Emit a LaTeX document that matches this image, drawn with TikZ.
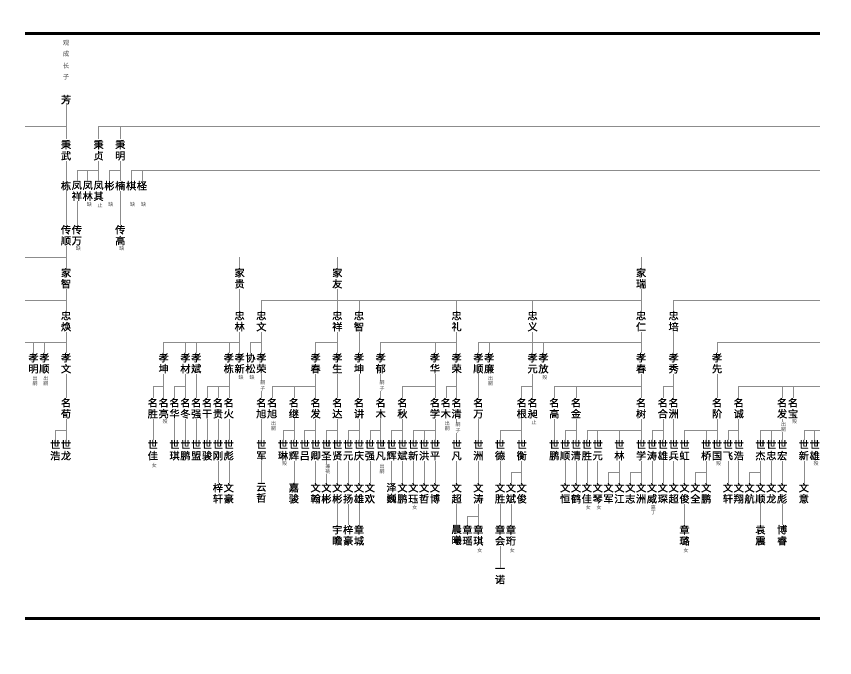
\documentclass[tikz,border=0pt]{standalone}
\usepackage{fontspec}
\newfontfamily\cjk[FakeBold=0.35]{Noto Sans CJK SC}
\newfontfamily\cjkn{Noto Sans CJK SC}
\usetikzlibrary{calc}
\definecolor{lncol}{RGB}{140,140,140}
\definecolor{ntcol}{RGB}{70,70,70}
\tikzset{
 nm/.style={inner xsep=0pt, inner ysep=0.3pt, anchor=north, align=center, font=\cjk\fontsize{10.2}{11}\selectfont},
 note/.style={inner sep=0.2pt, align=center, text=ntcol, font=\cjkn\fontsize{5}{5.8}\selectfont, fill=white},
 conn/.style={draw=lncol, line width=0.6pt},
 rulebar/.style={line width=3pt, black}
}
\newcommand\GN[4]{\node[nm] (#1) at ({33.5+10.85*#2},#3-0.5) {#4};}
\newcommand\GT[4]{\node[note] (n#1) at ({33.5+10.85*#2+1.5},#3) {#4};}
\newcommand\GV[2]{\draw[conn] (#1.south) -- (#2.north);}
\newcommand\GU[2]{\draw[conn] (#1.north) -- (#1.north |- #2);}
\newcommand\GH[3]{\draw[conn] (#1 |- #3) -- (#2 |- #3);}
\begin{document}
\begin{tikzpicture}[x=1pt,y=-1pt]
\useasboundingbox (0,0) rectangle (851,674);
\coordinate (W) at (25,0); \coordinate (E) at (820,0);
\coordinate (L1) at (0,126.5); \coordinate (L2) at (0,170);
\coordinate (L4) at (0,257); \coordinate (L5) at (0,300);
\coordinate (L6) at (0,342); \coordinate (L7) at (0,386);
\coordinate (L8) at (0,430); \coordinate (L9) at (0,472);
\coordinate (L10) at (0,516);
\coordinate (R1a) at (25,34); \coordinate (R1b) at (820,34);
\coordinate (R2a) at (25,618); \coordinate (R2b) at (820,618);
\draw[rulebar] (R1a) -- (R1b);
\draw[rulebar] (R2a) -- (R2b);
\node[font=\cjkn\fontsize{6.5}{11.5}\selectfont, text=ntcol, align=center, anchor=north, inner sep=0pt] (hdr) at ({33.5+10.85*3},40) {观\\成\\长\\子};
% names
\GN{fang}{3}{95}{芳}
\GN{bwu}{3}{140}{秉\\武}
\GN{bzhen}{6}{140}{秉\\贞}
\GN{bming}{8}{140}{秉\\明}
\GN{dong}{3}{181}{栋}
\GN{fxiang}{4}{181}{凤\\祥}
\GN{flin}{5}{181}{凤\\林}
\GN{fqi}{6}{181}{凤\\其}
\GN{bin}{7}{181}{彬}
\GN{nan}{8}{181}{楠}
\GN{qi}{9}{181}{棋}
\GN{cheng}{10}{181}{柽}
\GN{cshun}{3}{225}{传\\顺}
\GN{cwan}{4}{225}{传\\万}
\GN{cgao}{8}{225}{传\\高}
\GN{jzhi}{3}{268}{家\\智}
\GN{jgui}{19}{268}{家\\贵}
\GN{jyou}{28}{268}{家\\友}
\GN{jrui}{56}{268}{家\\瑞}
\GN{zhuan}{3}{311}{忠\\焕}
\GN{zlin}{19}{311}{忠\\林}
\GN{zwen}{21}{311}{忠\\文}
\GN{zxiang}{28}{311}{忠\\祥}
\GN{zzhi}{30}{311}{忠\\智}
\GN{zli}{39}{311}{忠\\礼}
\GN{zyi}{46}{311}{忠\\义}
\GN{zren}{56}{311}{忠\\仁}
\GN{zpei}{59}{311}{忠\\培}
\GN{xming}{0}{353}{孝\\明}
\GN{xshunA}{1}{353}{孝\\顺}
\GN{xwen}{3}{353}{孝\\文}
\GN{xkunA}{12}{353}{孝\\坤}
\GN{xcai}{14}{353}{孝\\材}
\GN{xbin}{15}{353}{孝\\斌}
\GN{xdong}{18}{353}{孝\\栋}
\GN{xxin}{19}{353}{孝\\新}
\GN{xsong}{20}{353}{协\\松}
\GN{xrongA}{21}{353}{孝\\荣}
\GN{xchunA}{26}{353}{孝\\春}
\GN{xsheng}{28}{353}{孝\\生}
\GN{xkunB}{30}{353}{孝\\坤}
\GN{xyu}{32}{353}{孝\\郁}
\GN{xhua}{37}{353}{孝\\华}
\GN{xrongB}{39}{353}{孝\\荣}
\GN{xshunB}{41}{353}{孝\\顺}
\GN{xlian}{42}{353}{孝\\廉}
\GN{xyuan}{46}{353}{孝\\元}
\GN{xfang}{47}{353}{孝\\放}
\GN{xchunB}{56}{353}{孝\\春}
\GN{xxiu}{59}{353}{孝\\秀}
\GN{xxian}{63}{353}{孝\\先}
\GN{mxun}{3}{398}{名\\荀}
\GN{msheng}{11}{398}{名\\胜}
\GN{mliang}{12}{398}{名\\亮}
\GN{mhua}{13}{398}{名\\华}
\GN{mdong}{14}{398}{名\\冬}
\GN{mqiang}{15}{398}{名\\强}
\GN{mgan}{16}{398}{名\\干}
\GN{mgui}{17}{398}{名\\贵}
\GN{mhuo}{18}{398}{名\\火}
\GN{mxuA}{21}{398}{名\\旭}
\GN{mxuB}{22}{398}{名\\旭}
\GN{mji}{24}{398}{名\\继}
\GN{mfaA}{26}{398}{名\\发}
\GN{mda}{28}{398}{名\\达}
\GN{mjiang}{30}{398}{名\\讲}
\GN{mmuA}{32}{398}{名\\木}
\GN{mqiu}{34}{398}{名\\秋}
\GN{mxue}{37}{398}{名\\学}
\GN{mmuB}{38}{398}{名\\木}
\GN{mqing}{39}{398}{名\\清}
\GN{mwan}{41}{398}{名\\万}
\GN{mgen}{45}{398}{名\\根}
\GN{mchang}{46}{398}{名\\昶}
\GN{mgao}{48}{398}{名\\高}
\GN{mjin}{50}{398}{名\\金}
\GN{mshu}{56}{398}{名\\树}
\GN{mhe}{58}{398}{名\\合}
\GN{mzhou}{59}{398}{名\\洲}
\GN{mjie}{63}{398}{名\\阶}
\GN{mcheng}{65}{398}{名\\诚}
\GN{mfaB}{69}{398}{名\\发}
\GN{mbao}{70}{398}{名\\宝}
\GN{shao}{2}{440}{世\\浩}
\GN{slong}{3}{440}{世\\龙}
\GN{sjia}{11}{440}{世\\佳}
\GN{sqi}{13}{440}{世\\琪}
\GN{speng}{14}{440}{世\\鹏}
\GN{smeng}{15}{440}{世\\盟}
\GN{sjun}{16}{440}{世\\骏}
\GN{sgang}{17}{440}{世\\刚}
\GN{sbiao}{18}{440}{世\\彪}
\GN{sjunB}{21}{440}{世\\军}
\GN{slin}{23}{440}{世\\琳}
\GN{shuiA}{24}{440}{世\\辉}
\GN{slv}{25}{440}{世\\吕}
\GN{sqing}{26}{440}{世\\卿}
\GN{ssheng}{27}{440}{世\\圣}
\GN{sxian}{28}{440}{世\\贤}
\GN{syuanA}{29}{440}{世\\元}
\GN{sqingB}{30}{440}{世\\庆}
\GN{sqiang}{31}{440}{世\\强}
\GN{sfanA}{32}{440}{世\\凡}
\GN{shuiB}{33}{440}{世\\辉}
\GN{sbin}{34}{440}{世\\斌}
\GN{sxinA}{35}{440}{世\\新}
\GN{shong}{36}{440}{世\\洪}
\GN{sping}{37}{440}{世\\平}
\GN{sfanB}{39}{440}{世\\凡}
\GN{szhou}{41}{440}{世\\洲}
\GN{sde}{43}{440}{世\\德}
\GN{sheng}{45}{440}{世\\衡}
\GN{spengB}{48}{440}{世\\鹏}
\GN{sshun}{49}{440}{世\\顺}
\GN{sqingC}{50}{440}{世\\清}
\GN{sshengB}{51}{440}{世\\胜}
\GN{syuanB}{52}{440}{世\\元}
\GN{slinB}{54}{440}{世\\林}
\GN{sxue}{56}{440}{世\\学}
\GN{stao}{57}{440}{世\\涛}
\GN{sxiong}{58}{440}{世\\雄}
\GN{sbing}{59}{440}{世\\兵}
\GN{shongB}{60}{440}{世\\虹}
\GN{sqiao}{62}{440}{世\\桥}
\GN{sguo}{63}{440}{世\\国}
\GN{sfei}{64}{440}{世\\飞}
\GN{shaoB}{65}{440}{世\\浩}
\GN{sjie}{67}{440}{世\\杰}
\GN{szhong}{68}{440}{世\\忠}
\GN{shongC}{69}{440}{世\\宏}
\GN{sxinB}{71}{440}{世\\新}
\GN{sxiongB}{72}{440}{世\\雄}
\GN{zixuan}{17}{483}{梓\\轩}
\GN{wenhao}{18}{483}{文\\豪}
\GN{yunzhe}{21}{483}{云\\哲}
\GN{jiajun}{24}{483}{嘉\\骏}
\GN{wenhan}{26}{483}{文\\翰}
\GN{wbinA}{27}{483}{文\\彬}
\GN{wbinB}{28}{483}{文\\彬}
\GN{wyang}{29}{483}{文\\扬}
\GN{wxiong}{30}{483}{文\\雄}
\GN{whuan}{31}{483}{文\\欢}
\GN{zewei}{33}{483}{泽\\巍}
\GN{wpeng}{34}{483}{文\\鹏}
\GN{wjue}{35}{483}{文\\珏}
\GN{wzhe}{36}{483}{文\\哲}
\GN{wbo}{37}{483}{文\\博}
\GN{wchao}{39}{483}{文\\超}
\GN{wtao}{41}{483}{文\\涛}
\GN{wsheng}{43}{483}{文\\胜}
\GN{wbin}{44}{483}{文\\斌}
\GN{wjun}{45}{483}{文\\俊}
\GN{wheng}{49}{483}{文\\恒}
\GN{whe}{50}{483}{文\\鹤}
\GN{wjia}{51}{483}{文\\佳}
\GN{wqin}{52}{483}{文\\琴}
\GN{wjunC}{53}{483}{文\\军}
\GN{wjiang}{54}{483}{文\\江}
\GN{wzhi}{55}{483}{文\\志}
\GN{wzhou}{56}{483}{文\\洲}
\GN{wwei}{57}{483}{文\\威}
\GN{wchen}{58}{483}{文\\琛}
\GN{wchaoB}{59}{483}{文\\超}
\GN{wjunB}{60}{483}{文\\俊}
\GN{wquan}{61}{483}{文\\全}
\GN{wpengB}{62}{483}{文\\鹏}
\GN{wxuan}{64}{483}{文\\轩}
\GN{wxiang}{65}{483}{文\\翔}
\GN{whang}{66}{483}{文\\航}
\GN{wshun}{67}{483}{文\\顺}
\GN{wlong}{68}{483}{文\\龙}
\GN{wbiao}{69}{483}{文\\彪}
\GN{wyi}{71}{483}{文\\意}
\GN{yuzhan}{28}{525}{宇\\瞻}
\GN{zihao}{29}{525}{梓\\豪}
\GN{zcheng}{30}{525}{章\\城}
\GN{chenxi}{39}{525}{晨\\曦}
\GN{zyao}{40}{525}{章\\瑶}
\GN{zqi}{41}{525}{章\\琪}
\GN{zhui}{43}{525}{章\\会}
\GN{zheng}{44}{525}{章\\珩}
\GN{zlu}{60}{525}{章\\璐}
\GN{yuanzhen}{67}{525}{袁\\震}
\GN{borui}{69}{525}{博\\睿}
\GN{yinuo}{43}{568}{一\\诺}
% connectors
\GV{fang}{bwu}
\GH{W}{fang}{L1}
\GH{bzhen}{E}{L1} \GU{bzhen}{L1} \GU{bming}{L1}
\GV{bwu}{dong}
\GH{fxiang}{bzhen}{L2} \GU{fxiang}{L2} \GU{flin}{L2} \GV{bzhen}{fqi}
\GH{bin}{bming}{L2} \GU{bin}{L2} \GV{bming}{nan}
\GH{qi}{E}{L2} \GU{qi}{L2} \GU{cheng}{L2}
\GV{dong}{cshun} \GV{fxiang}{cwan} \GV{nan}{cgao}
\GH{W}{cshun}{L4} \GV{cshun}{jzhi}
\GU{jgui}{L4} \GU{jyou}{L4} \GU{jrui}{L4}
\GH{W}{jzhi}{L5} \GV{jzhi}{zhuan}
\GV{jgui}{zlin}
\GH{zwen}{jrui}{L5} \GU{zwen}{L5} \GV{jyou}{zxiang} \GU{zzhi}{L5} \GU{zli}{L5} \GU{zyi}{L5}
\GV{jrui}{zren}
\GH{zpei}{E}{L5} \GU{zpei}{L5}
\GH{W}{zhuan}{L6} \GU{xming}{L6} \GU{xshunA}{L6} \GV{zhuan}{xwen}
\GH{xkunA}{zlin}{L6} \GU{xkunA}{L6} \GU{xcai}{L6} \GU{xbin}{L6} \GU{xdong}{L6} \GV{zlin}{xxin}
\GH{xsong}{zwen}{L6} \GU{xsong}{L6} \GV{zwen}{xrongA}
\GH{xchunA}{zxiang}{L6} \GU{xchunA}{L6} \GV{zxiang}{xsheng}
\GV{zzhi}{xkunB}
\GH{xyu}{zli}{L6} \GU{xyu}{L6} \GU{xhua}{L6} \GV{zli}{xrongB}
\GH{xshunB}{zren}{L6} \GU{xshunB}{L6} \GU{xlian}{L6} \GU{xfang}{L6} \GV{zyi}{xyuan} \GV{zren}{xchunB}
\GV{zpei}{xxiu}
\GH{xxian}{E}{L6} \GU{xxian}{L6}
\GV{xwen}{mxun}
\GH{msheng}{xkunA}{L7} \GU{msheng}{L7} \GV{xkunA}{mliang}
\GH{mhua}{xcai}{L7} \GU{mhua}{L7} \GV{xcai}{mdong}
\GV{xbin}{mqiang}
\GH{mgan}{xdong}{L7} \GU{mgan}{L7} \GU{mgui}{L7} \GV{xdong}{mhuo}
\GV{xrongA}{mxuA}
\GH{mxuB}{xchunA}{L7} \GU{mxuB}{L7} \GU{mji}{L7} \GV{xchunA}{mfaA}
\GV{xsheng}{mda}
\GV{xkunB}{mjiang}
\GV{xyu}{mmuA}
\GH{mqiu}{xhua}{L7} \GU{mqiu}{L7} \GV{xhua}{mxue}
\GH{mmuB}{xrongB}{L7} \GU{mmuB}{L7} \GV{xrongB}{mqing}
\GV{xshunB}{mwan}
\GH{mgen}{xyuan}{L7} \GU{mgen}{L7} \GV{xyuan}{mchang}
\GH{mgao}{xchunB}{L7} \GU{mgao}{L7} \GU{mjin}{L7} \GV{xchunB}{mshu}
\GH{mhe}{xxiu}{L7} \GU{mhe}{L7} \GV{xxiu}{mzhou}
\GV{xxian}{mjie}
\GH{mcheng}{E}{L7} \GU{mcheng}{L7} \GU{mfaB}{L7} \GU{mbao}{L7}
\GH{shao}{mxun}{L8} \GU{shao}{L8} \GV{mxun}{slong}
\GV{msheng}{sjia} \GV{mhua}{sqi} \GV{mdong}{speng} \GV{mqiang}{smeng} \GV{mgan}{sjun} \GV{mgui}{sgang} \GV{mhuo}{sbiao}
\GV{mxuA}{sjunB}
\GH{slin}{mji}{L8} \GU{slin}{L8} \GV{mji}{shuiA}
\GH{slv}{mfaA}{L8} \GU{slv}{L8} \GV{mfaA}{sqing}
\GH{ssheng}{mda}{L8} \GU{ssheng}{L8} \GV{mda}{sxian}
\GH{syuanA}{mjiang}{L8} \GU{syuanA}{L8} \GV{mjiang}{sqingB}
\GH{sqiang}{mmuA}{L8} \GU{sqiang}{L8} \GV{mmuA}{sfanA}
\GH{shuiB}{mqiu}{L8} \GU{shuiB}{L8} \GV{mqiu}{sbin}
\GH{sxinA}{mxue}{L8} \GU{sxinA}{L8} \GU{shong}{L8} \GV{mxue}{sping}
\GV{mqing}{sfanB}
\GV{mwan}{szhou}
\GH{sde}{mgen}{L8} \GU{sde}{L8} \GV{mgen}{sheng}
\GV{mgao}{spengB}
\GH{sshun}{mjin}{L8} \GU{sshun}{L8} \GV{mjin}{sqingC}
\GH{sshengB}{mshu}{L8} \GU{sshengB}{L8} \GU{syuanB}{L8} \GU{slinB}{L8} \GV{mshu}{sxue}
\GH{stao}{mhe}{L8} \GU{stao}{L8} \GV{mhe}{sxiong}
\GV{mzhou}{sbing}
\GH{shongB}{mjie}{L8} \GU{shongB}{L8} \GU{sqiao}{L8} \GV{mjie}{sguo}
\GH{sfei}{mcheng}{L8} \GU{sfei}{L8} \GV{mcheng}{shaoB}
\GH{sjie}{mfaB}{L8} \GU{sjie}{L8} \GU{szhong}{L8} \GV{mfaB}{shongC}
\GH{sxinB}{E}{L8} \GU{sxinB}{L8} \GU{sxiongB}{L8}
\GV{sgang}{zixuan} \GV{sbiao}{wenhao} \GV{sjunB}{yunzhe} \GV{shuiA}{jiajun} \GV{sqing}{wenhan}
\GV{ssheng}{wbinA} \GV{sxian}{wbinB} \GV{syuanA}{wyang} \GV{sqingB}{wxiong} \GV{sqiang}{whuan}
\GV{shuiB}{zewei} \GV{sbin}{wpeng} \GV{sxinA}{wjue} \GV{shong}{wzhe} \GV{sping}{wbo}
\GV{sfanB}{wchao} \GV{szhou}{wtao} \GV{sde}{wsheng}
\GH{wbin}{sheng}{L9} \GU{wbin}{L9} \GV{sheng}{wjun}
\GV{sshun}{wheng} \GV{sqingC}{whe} \GV{sshengB}{wjia} \GV{syuanB}{wqin}
\GH{wjunC}{slinB}{L9} \GU{wjunC}{L9} \GV{slinB}{wjiang}
\GH{wzhi}{sxue}{L9} \GU{wzhi}{L9} \GV{sxue}{wzhou}
\GV{stao}{wwei} \GV{sxiong}{wchen} \GV{sbing}{wchaoB} \GV{shongB}{wjunB}
\GH{wquan}{sqiao}{L9} \GU{wquan}{L9} \GV{sqiao}{wpengB}
\GV{sfei}{wxuan} \GV{shaoB}{wxiang}
\GH{whang}{sjie}{L9} \GU{whang}{L9} \GV{sjie}{wshun}
\GV{szhong}{wlong} \GV{shongC}{wbiao} \GV{sxinB}{wyi}
\GV{wbinB}{yuzhan} \GV{wyang}{zihao} \GV{wxiong}{zcheng} \GV{wchao}{chenxi}
\GH{zyao}{wtao}{L10} \GU{zyao}{L10} \GV{wtao}{zqi}
\GV{wsheng}{zhui} \GV{wbin}{zheng} \GV{wjunB}{zlu} \GV{wshun}{yuanzhen} \GV{wbiao}{borui}
\GV{zhui}{yinuo}
% notes
\GT{flin}{5}{205}{缺} \GT{fqi}{6}{205}{止} \GT{bin}{7}{205}{缺} \GT{qi}{9}{205}{缺} \GT{cheng}{10}{205}{缺}
\GT{cwan}{4}{249}{缺} \GT{cgao}{8}{249}{缺}
\GT{xming}{0}{381}{出\\嗣} \GT{xshunA}{1}{381}{出\\嗣} \GT{xxin}{19}{378}{缺} \GT{xsong}{20}{378}{缺}
\GT{xrongA}{21}{386}{嗣\\子} \GT{xyu}{32}{386}{嗣\\子} \GT{xlian}{42}{381}{出\\嗣} \GT{xfang}{47}{378}{殁}
\GT{mliang}{12}{422}{殁} \GT{mxuB}{22}{426}{出\\嗣} \GT{mmuB}{38}{426}{出\\嗣} \GT{mqing}{39}{428}{嗣\\子}
\GT{mchang}{46}{422}{止} \GT{mfaB}{69}{427}{出\\嗣} \GT{mbao}{70}{422}{殁}
\GT{sjia}{11}{466}{女} \GT{slin}{23}{464}{殁} \GT{ssheng}{27}{469}{兼\\祧} \GT{sfanA}{32}{469}{出\\嗣}
\GT{sguo}{63}{464}{殁} \GT{sxiongB}{72}{464}{殁}
\GT{wjue}{35}{508}{女} \GT{wjia}{51}{508}{女} \GT{wqin}{52}{508}{女} \GT{wwei}{57}{510}{嘉\\丁}
\GT{zqi}{41}{551}{女} \GT{zheng}{44}{551}{女} \GT{zlu}{60}{551}{女}
\end{tikzpicture}
\end{document}
